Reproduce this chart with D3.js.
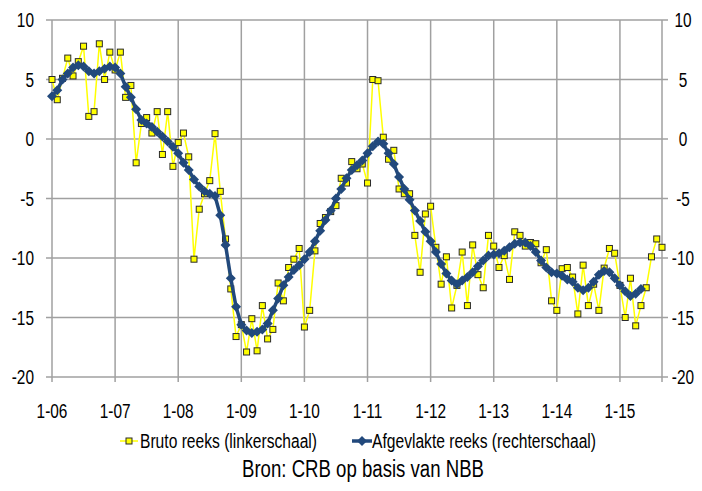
<!DOCTYPE html>
<html>
<head>
<meta charset="utf-8">
<script src="https://d3js.org/d3.v7.min.js"></script>
<style>
  body { margin: 0; background: #fff; }
  text { font-family: "Liberation Sans", Arial, sans-serif; fill: #000; }
</style>
</head>
<body>
<div id="chart"></div>
<script>
// monthly data, Jan 2006 .. Sep 2015

// Bruto reeks (linkerschaal)
var bruto = [
  5.0, 3.3, 5.1, 6.8, 5.3, 6.5, 7.8, 1.9, 2.3, 8.0, 5.0, 7.3,
  5.8, 7.3, 3.5, 4.5, -2.0, 1.3, 1.8, 0.5, 2.3, -1.3, 2.3, -2.3,
  -0.3, 0.5, -1.5, -10.1, -5.9, -4.6, -3.5, 0.45, -4.4, -8.4, -12.6, -16.6,
  -15.6, -17.9, -15.1, -17.8, -14.0, -16.8, -16.0, -12.1, -13.6, -10.8, -10.1, -9.2,
  -15.8, -14.4, -9.4, -7.1, -6.6, -6.1, -5.6, -3.3, -3.7, -1.9, -2.5, -2.1,
  -3.7, 5.0, 4.9, 0.15, -1.7, -0.95, -4.2, -4.6, -4.6, -8.1, -11.2, -6.3,
  -5.65, -9.1, -12.2, -9.9, -14.2, -12.3, -9.5, -14.0, -8.9, -11.4, -12.5, -8.1,
  -9.0, -10.8, -9.8, -11.8, -7.8, -8.1, -9.0, -8.7, -8.8, -10.4, -9.3, -13.6,
  -14.4, -10.9, -10.8, -11.6, -14.7, -10.6, -14.0, -12.2, -14.4, -10.85, -9.2, -9.6,
  -12.3, -15.0, -11.7, -15.7, -14.0, -12.5, -9.9, -8.4, -9.1
]

// Afgevlakte reeks (rechterschaal), Jan 2006 .. May 2015
var afgevlakt = [
  3.6, 4.1, 5.0, 5.5, 6.0, 6.2, 6.1, 5.7, 5.5, 5.7, 5.9, 6.1,
  6.0, 5.5, 4.4, 3.5, 2.5, 1.6, 1.3, 1.0, 0.6, 0.2, -0.2, -0.65,
  -1.2, -2.0, -2.6, -3.4, -4.0, -4.4, -4.6, -4.8, -6.4, -8.9, -11.7, -14.1,
  -15.6, -16.1, -16.3, -16.2, -16.0, -15.5, -14.4, -13.4, -12.3, -11.6, -11.0, -10.6,
  -10.1, -9.5, -8.6, -7.7, -6.8, -6.0, -5.0, -4.2, -3.3, -2.6, -2.2, -1.8,
  -1.2, -0.6, -0.2, -0.4, -1.2, -2.1, -3.2, -4.2, -5.1, -6.0, -6.9, -7.8,
  -8.6, -9.5, -10.5, -11.3, -11.9, -12.2, -11.9, -11.6, -11.2, -10.7, -10.2, -9.8,
  -9.7, -9.6, -9.4, -9.1, -8.8, -8.7, -8.7, -9.0, -9.5, -10.2, -10.8, -11.2,
  -11.3, -11.5, -11.8, -12.0, -12.5, -12.7, -12.5, -12.0, -11.4, -11.1, -11.2, -11.7,
  -12.3, -12.8, -13.2, -13.0, -12.6
]

var yTicks = [10, 5, 0, -5, -10, -15, -20]
var xLabels = ["1-06", "1-07", "1-08", "1-09", "1-10", "1-11", "1-12", "1-13", "1-14", "1-15"]
var legendLabels = ["Bruto reeks (linkerschaal)", "Afgevlakte reeks (rechterschaal)"]
var sourceText = "Bron: CRB op basis van NBB"

var width = 702
var height = 491
var plotL = 52, plotR = 662, plotT = 20, plotB = 377

var yellow = "#ffff00"
var blue = "#22497c"
var grid = "#a0a0a0"

var svg = d3.select("#chart").append("svg")
    .attr("width", width)
    .attr("height", height)

var x = d3.scaleLinear()
    .domain([0, bruto.length - 1])
    .range([plotL, plotR])

var y = d3.scaleLinear()
    .domain([-20, 10])
    .range([plotB, plotT])

// horizontal gridlines (+ small outside ticks on both axes)
svg.append("g").selectAll("line")
    .data(yTicks)
    .join("line")
    .attr("x1", plotL - 6).attr("x2", plotR + 6)
    .attr("y1", function(d) { return y(d) }).attr("y2", function(d) { return y(d) })
    .attr("stroke", grid).attr("stroke-width", 1.5)

// vertical gridlines at every january
var janIdx = xLabels.map(function(d, k) { return k * 12 })
svg.append("g").selectAll("line")
    .data(janIdx.concat([bruto.length - 1]))
    .join("line")
    .attr("x1", function(d) { return x(d) }).attr("x2", function(d) { return x(d) })
    .attr("y1", plotT).attr("y2", plotB + 5)
    .attr("stroke", grid).attr("stroke-width", 1.5)

// left tick labels
svg.append("g").selectAll("text")
    .data(yTicks)
    .join("text")
    .attr("class", "sq")
    .attr("x", 34)
    .attr("y", function(d) { return y(d) + 7 })
    .attr("text-anchor", "end")
    .style("font-size", "20px")
    .text(function(d) { return d })

// right tick labels
svg.append("g").selectAll("text")
    .data(yTicks)
    .join("text")
    .attr("class", "sq")
    .attr("x", 683)
    .attr("y", function(d) { return y(d) + 7 })
    .attr("text-anchor", "middle")
    .style("font-size", "20px")
    .text(function(d) { return d })

// x labels
svg.append("g").selectAll("text")
    .data(xLabels)
    .join("text")
    .attr("class", "sq")
    .attr("x", function(d, k) { return x(janIdx[k]) })
    .attr("y", 418)
    .attr("text-anchor", "middle")
    .style("font-size", "20px")
    .text(function(d) { return d })

// bruto series
var lineB = d3.line()
    .x(function(d, i) { return x(i) })
    .y(function(d) { return y(d) })

svg.append("path")
    .datum(bruto)
    .attr("d", lineB)
    .attr("fill", "none")
    .attr("stroke", yellow)
    .attr("stroke-width", 1.5)

svg.append("g").selectAll("rect")
    .data(bruto)
    .join("rect")
    .attr("x", function(d, i) { return x(i) - 3 })
    .attr("y", function(d) { return y(d) - 3 })
    .attr("width", 6).attr("height", 6)
    .attr("fill", yellow)
    .attr("stroke", "#2a2a2a")
    .attr("stroke-width", 1)

// smoothed series
var diamond = "M0,-5L5,0L0,5L-5,0Z"

svg.append("path")
    .datum(afgevlakt)
    .attr("d", lineB)
    .attr("fill", "none")
    .attr("stroke", blue)
    .attr("stroke-width", 3.5)

svg.append("g").selectAll("path")
    .data(afgevlakt)
    .join("path")
    .attr("d", diamond)
    .attr("transform", function(d, i) { return "translate(" + x(i) + "," + y(d) + ")" })
    .attr("fill", blue)

// legend
var lg = svg.append("g")
lg.append("line").attr("x1", 120).attr("x2", 138).attr("y1", 441).attr("y2", 441)
    .attr("stroke", yellow).attr("stroke-width", 1.5)
lg.append("rect").attr("x", 126).attr("y", 438).attr("width", 6).attr("height", 6)
    .attr("fill", yellow).attr("stroke", "#2a2a2a").attr("stroke-width", 1)
lg.append("text").attr("x", 140).attr("y", 448)
    .style("font-size", "20px")
    .attr("textLength", 177).attr("lengthAdjust", "spacingAndGlyphs")
    .text(legendLabels[0])

lg.append("line").attr("x1", 352).attr("x2", 372).attr("y1", 441).attr("y2", 441)
    .attr("stroke", blue).attr("stroke-width", 3.5)
lg.append("path").attr("d", diamond).attr("transform", "translate(362,441)").attr("fill", blue)
lg.append("text").attr("x", 372).attr("y", 448)
    .style("font-size", "20px")
    .attr("textLength", 224).attr("lengthAdjust", "spacingAndGlyphs")
    .text(legendLabels[1])

// source
svg.append("text")
    .attr("x", 242).attr("y", 477)
    .style("font-size", "23px")
    .attr("textLength", 242).attr("lengthAdjust", "spacingAndGlyphs")
    .text(sourceText)

// squeeze tick labels a bit, the original font is narrow
svg.selectAll("text.sq").each(function() {
    var w = this.getComputedTextLength()
    d3.select(this).attr("textLength", w * 0.77).attr("lengthAdjust", "spacingAndGlyphs")
})
</script>
</body>
</html>
